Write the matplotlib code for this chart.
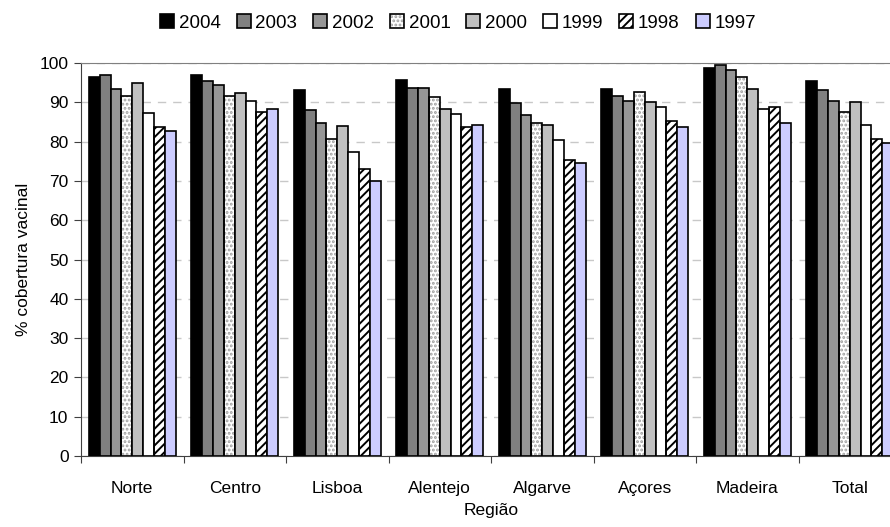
import numpy as np
import matplotlib
matplotlib.use("Agg")
import matplotlib.pyplot as plt
from matplotlib.legend_handler import HandlerTuple

plt.rcParams['font.family'] = ['Liberation Sans', 'DejaVu Sans']
plt.rcParams['hatch.linewidth'] = 1.4

# regiões e anos
regioes = ["Norte", "Centro", "Lisboa", "Alentejo", "Algarve", "Açores", "Madeira", "Total"]
anos = ["2004", "2003", "2002", "2001", "2000", "1999", "1998", "1997"]

# % cobertura vacinal por ano (uma lista por ano, pela ordem das regiões)
v2004 = [96.4, 97.0, 93.1, 95.8, 93.5, 93.5, 98.8, 95.4]
v2003 = [97.0, 95.3, 88.1, 93.7, 89.7, 91.7, 99.4, 93.1]
v2002 = [93.4, 94.4, 84.8, 93.7, 86.7, 90.4, 98.1, 90.4]
v2001 = [91.7, 91.7, 80.7, 91.3, 84.8, 92.7, 96.4, 87.6]
v2000 = [95.0, 92.4, 83.9, 88.3, 84.2, 90.0, 93.3, 90.0]
v1999 = [87.4, 90.3, 77.4, 87.0, 80.3, 88.7, 88.3, 84.3]
v1998 = [83.6, 87.6, 73.1, 83.6, 75.3, 85.3, 88.7, 80.7]
v1997 = [82.7, 88.3, 69.9, 84.2, 74.6, 83.6, 84.8, 79.6]
valores = [v2004, v2003, v2002, v2001, v2000, v1999, v1998, v1997]

cores = ["#000000", "#808080", "#969696", "#ffffff", "#c0c0c0", "#ffffff", "#ffffff", "#ccccff"]
padroes = [None, None, None, "....", None, None, "////", None]
cor_padrao = [None, None, None, "#a0a0a0", None, None, "#000000", None]

fs = 12.5

fig = plt.figure(figsize=(8.9, 5.27), dpi=100)
# a área do gráfico continua para lá da margem direita
ax = fig.add_axes([81 / 890, 71 / 527, 820 / 890, 393 / 527])

x = np.arange(len(regioes))
largura = 0.106
handles = []
for i, (ano, vals) in enumerate(zip(anos, valores)):
    pos = x + (i - 3.5) * largura
    partes = []
    if padroes[i]:
        b0 = ax.bar(pos, vals, largura, color=cores[i], edgecolor=cor_padrao[i],
                    hatch=padroes[i], linewidth=0, zorder=2)
        partes.append(b0)
        b = ax.bar(pos, vals, largura, fill=False, edgecolor="black", linewidth=1.2, zorder=3)
    else:
        b = ax.bar(pos, vals, largura, color=cores[i], edgecolor="black", linewidth=1.2, zorder=3)
    partes.append(b)
    handles.append(tuple(partes))

ax.set_xlim(-0.5, len(regioes) - 0.5)
ax.set_ylim(0, 100)
ax.set_yticks(np.arange(0, 101, 10))
ax.yaxis.grid(True, linestyle=(0, (6, 5)), color="#c8c8c8", linewidth=1.0, zorder=0)
ax.set_axisbelow(True)

# marcas entre regiões, nomes no centro
ax.set_xticks(np.arange(len(regioes) + 1) - 0.5)
ax.set_xticklabels([])
ax.set_xticks(x, minor=True)
ax.set_xticklabels(regioes, minor=True, fontsize=fs)
ax.tick_params(axis="x", which="major", length=5, direction="out", color="#404040")
ax.tick_params(axis="x", which="minor", length=0, pad=18)
ax.tick_params(axis="y", length=5, direction="out", pad=4, labelsize=fs, color="#404040")

ax.spines["right"].set_visible(False)
ax.spines["top"].set_color("#808080")
ax.spines["left"].set_color("#404040")
ax.spines["bottom"].set_color("#404040")

ax.set_ylabel("% cobertura vacinal", fontsize=fs, labelpad=6)
fig.text(491 / 890, 16 / 527, "Região", ha="center", va="center", fontsize=fs)

fig.legend(handles, anos, handler_map={tuple: HandlerTuple(ndivide=1)},
           loc="center", bbox_to_anchor=(458 / 890, 1 - 23 / 527), ncol=8,
           frameon=False, fontsize=fs + 1, handlelength=0.75, handleheight=0.75,
           handletextpad=0.25, columnspacing=0.85)

fig.savefig("out.png", dpi=100)
